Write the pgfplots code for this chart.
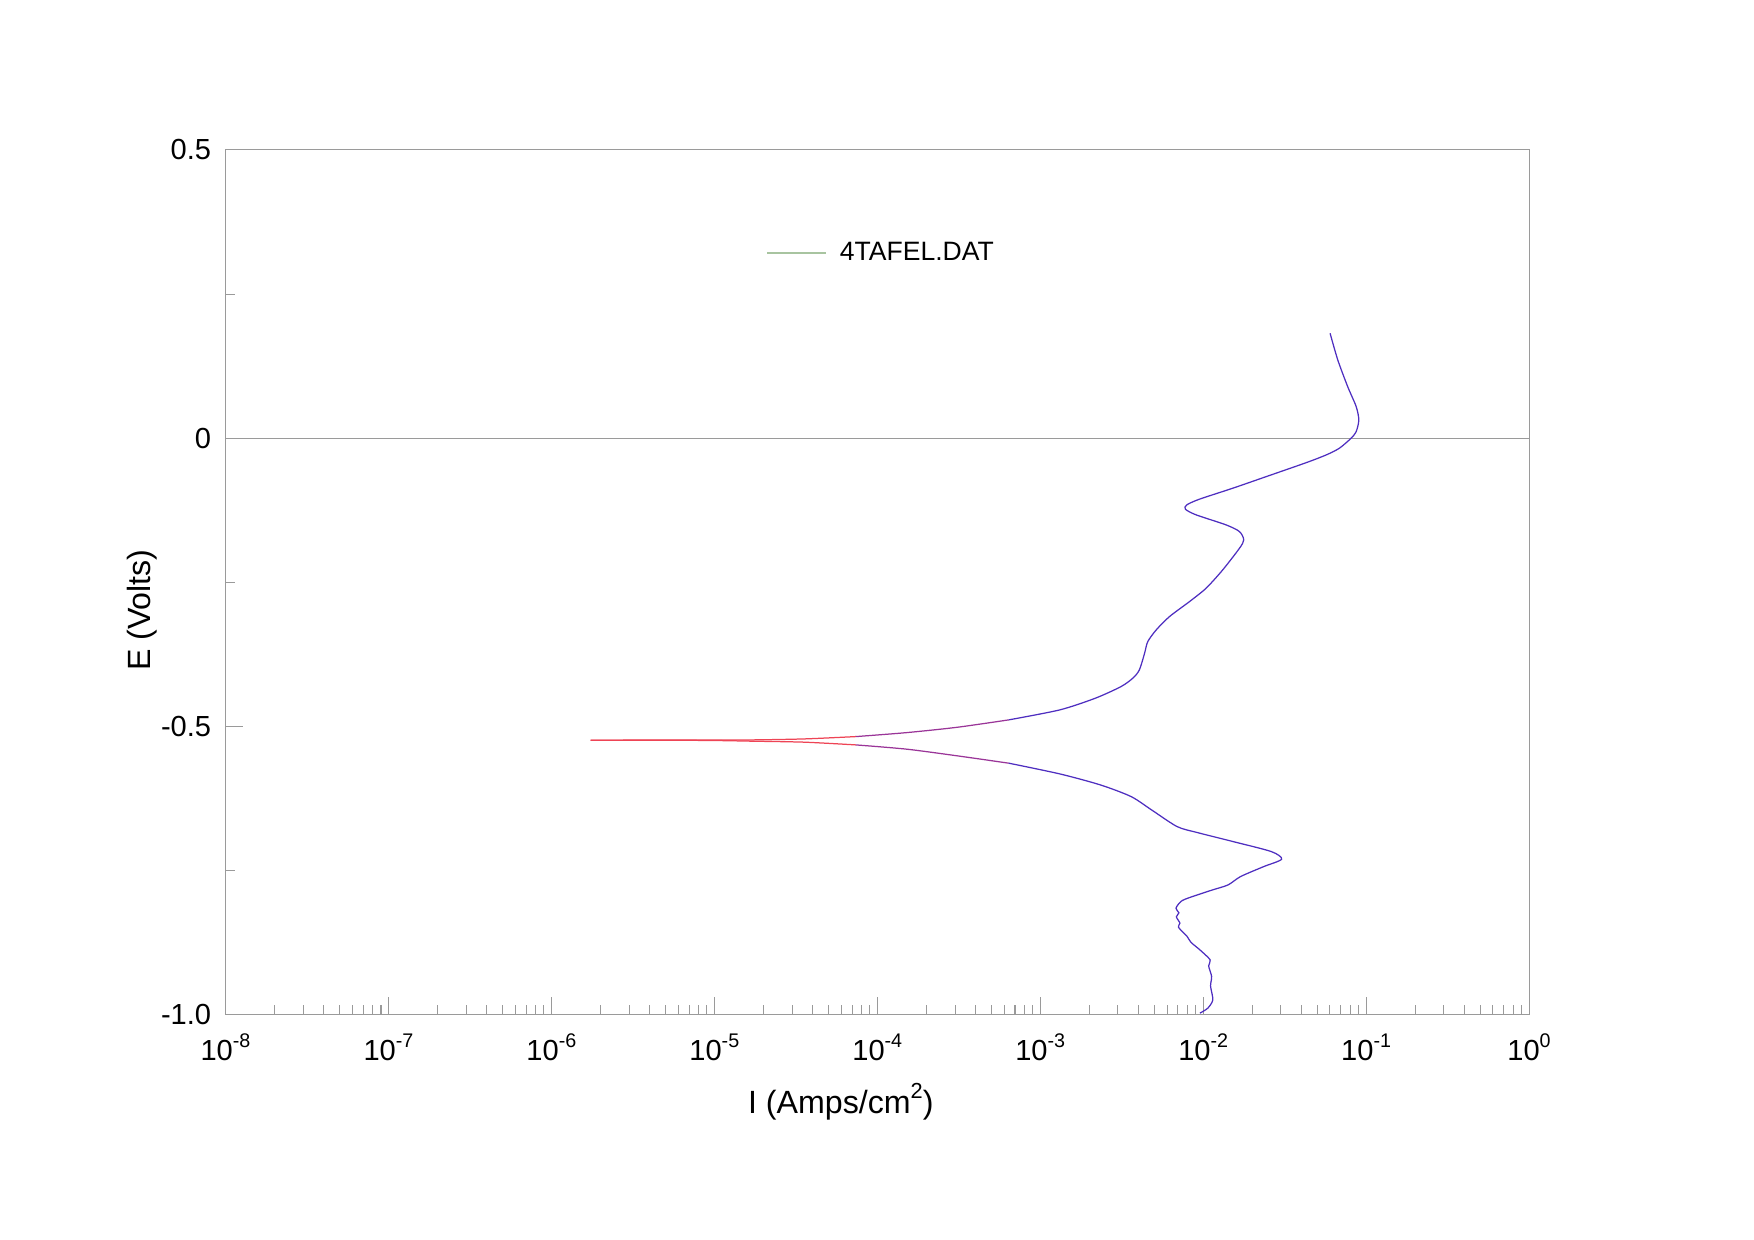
\documentclass[border=0pt]{standalone}
\usepackage{fontspec}
\setmainfont{Liberation Sans}
\usepackage{pgfplots}
\pgfplotsset{compat=1.18}

\definecolor{axgray}{HTML}{9A9A9A}
\definecolor{cred}{HTML}{EE4455}
\definecolor{cmid}{HTML}{9A3598}
\definecolor{cblue}{HTML}{4E2EC0}
\definecolor{leggreen}{HTML}{A8C4A0}

% decade label, e.g. 10^-8 written in the text font
\newcommand{\dec}[1]{10\raisebox{0.45em}{\fontsize{9.5}{10}\selectfont #1}}

\begin{document}
\begin{tikzpicture}
\begin{axis}[
    scale only axis,
    width=22.08cm, height=14.65cm,
    xmode=log,
    xmin=1e-8, xmax=1,
    ymin=-1.0, ymax=0.5,
    xtick={1e-8,1e-7,1e-6,1e-5,1e-4,1e-3,1e-2,1e-1,1},
    xticklabels={\dec{-8},\dec{-7},\dec{-6},\dec{-5},\dec{-4},\dec{-3},\dec{-2},\dec{-1},\dec{0}},
    ytick={-1,-0.5,0,0.5},
    yticklabels={-1.0,-0.5,0,0.5},
    minor ytick={-0.75,-0.25,0.25},
    tick align=inside,
    tick pos=left,
    major tick length=0.30cm,
    minor tick length=0.16cm,
    axis line style={axgray, line width=0.5pt},
    every tick/.style={axgray, line width=0.5pt},
    extra y ticks={0},
    extra y tick labels={},
    extra y tick style={grid=major, major grid style={axgray, line width=0.5pt}},
    tick label style={font=\fontsize{14}{16}\selectfont},
    xticklabel style={yshift=-0.2cm},
    yticklabel style={xshift=-0.12cm},
    xlabel={I (Amps/cm\raisebox{0.45em}{\fontsize{10.5}{11}\selectfont 2})},
    ylabel={E (Volts)},
    label style={font=\fontsize{15.5}{17}\selectfont},
    xlabel style={at={(axis description cs:0.472,-0.1006)}, anchor=center},
    ylabel style={at={(axis description cs:-0.0637,0.468)}, anchor=center},
    legend style={draw=none, fill=none, at={(axis description cs:0.41,0.881)},
        anchor=west, font=\fontsize{12.8}{14}\selectfont},
    legend image code/.code={\draw[#1] (0cm,0cm) -- (1.0cm,0cm);},
    legend cell align=left,
    every axis plot/.append style={line width=0.6pt, smooth, tension=0.45},
]
\addlegendimage{leggreen, line width=0.6pt}
\addlegendentry{\hspace{0.15cm}4TAFEL.DAT}

% anodic branch, from E_corr upward
\addplot[cred] coordinates {
  (1.74e-6,-0.5236) (8.49e-6,-0.5233) (1.746e-5,-0.5231) (3.59e-5,-0.5214) (7.38e-5,-0.5174)
};
\addplot[cmid] coordinates {
  (7.38e-5,-0.5174) (1.514e-4,-0.5105) (3.12e-4,-0.5011) (6.41e-4,-0.4884)
};
\addplot[cblue] coordinates {
  (6.41e-4,-0.4884) (1.318e-3,-0.4711) (2.18e-3,-0.4508) (3.13e-3,-0.4307)
  (3.70e-3,-0.4161) (4.06e-3,-0.4017) (4.37e-3,-0.3728) (4.57e-3,-0.3527)
  (5.15e-3,-0.3324) (6.21e-3,-0.3093) (8.24e-3,-0.2833) (1.042e-2,-0.2601)
  (1.318e-2,-0.2283) (1.671e-2,-0.1907) (1.774e-2,-0.1763) (1.671e-2,-0.1619)
  (1.384e-2,-0.1503) (9.06e-3,-0.1329) (7.78e-3,-0.1231) (7.93e-3,-0.1156)
  (9.48e-3,-0.1057) (1.521e-2,-0.0866) (2.438e-2,-0.0665) (4.29e-2,-0.0423)
  (5.69e-2,-0.0289) (6.85e-2,-0.0173) (8.09e-2,0.0001) (8.69e-2,0.0115)
  (9.02e-2,0.0318) (8.69e-2,0.0549) (7.71e-2,0.0895) (6.70e-2,0.1358)
  (6.01e-2,0.1821)
};

% cathodic branch, from E_corr downward
\addplot[cred] coordinates {
  (1.74e-6,-0.5236) (8.49e-6,-0.5240) (1.746e-5,-0.5254) (3.59e-5,-0.5271) (7.38e-5,-0.5318)
};
\addplot[cmid] coordinates {
  (7.38e-5,-0.5318) (1.514e-4,-0.5392) (3.12e-4,-0.5509) (6.41e-4,-0.5635)
};
\addplot[cblue] coordinates {
  (6.41e-4,-0.5635) (1.318e-3,-0.5821) (2.34e-3,-0.6012) (3.61e-3,-0.6214)
  (4.82e-3,-0.6445) (6.92e-3,-0.6735) (9.23e-3,-0.6839) (1.528e-2,-0.6995)
  (2.618e-2,-0.7168) (3.03e-2,-0.7300) (2.355e-2,-0.7428) (1.70e-2,-0.7600)
  (1.422e-2,-0.7746) (1.15e-2,-0.7830) (9.23e-3,-0.7919) (7.43e-3,-0.8018)
  (6.81e-3,-0.8150) (7.10e-3,-0.8230) (6.85e-3,-0.8300) (7.20e-3,-0.8410)
  (7.05e-3,-0.8480) (7.98e-3,-0.8642) (8.40e-3,-0.8740) (9.55e-3,-0.8873)
  (1.104e-2,-0.9046) (1.080e-2,-0.9150) (1.127e-2,-0.9336) (1.110e-2,-0.9500)
  (1.146e-2,-0.9740) (1.067e-2,-0.9884) (9.55e-3,-0.9970)
};
\end{axis}
\path ([xshift=-3.82cm,yshift=-3.81cm]current axis.south west)
  rectangle ([xshift=3.81cm,yshift=2.54cm]current axis.north east);
\end{tikzpicture}
\end{document}
